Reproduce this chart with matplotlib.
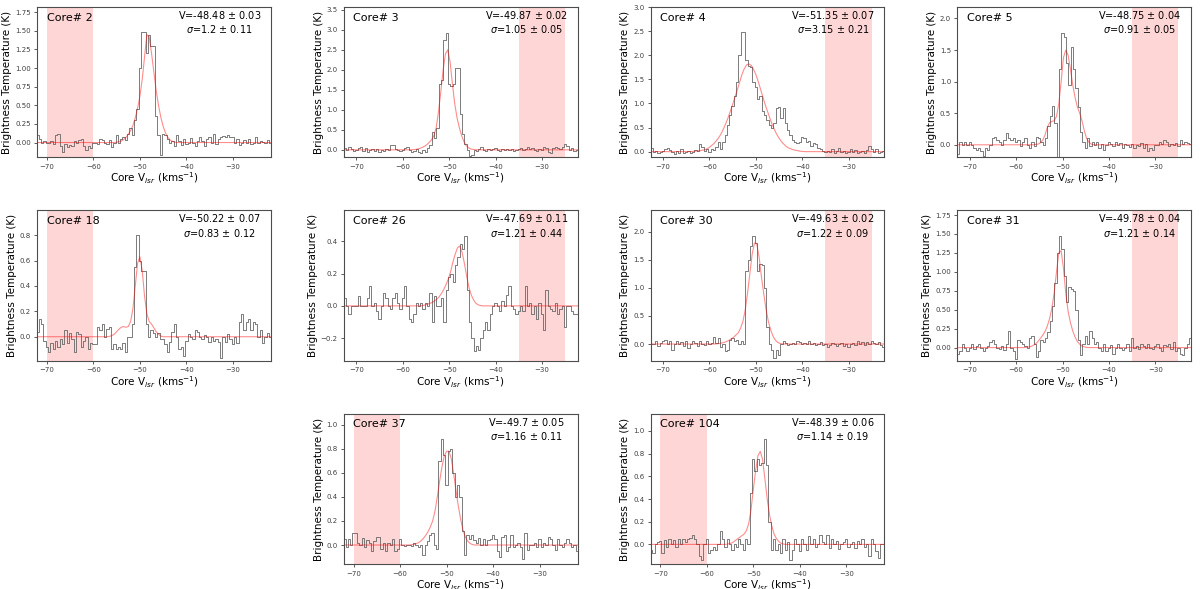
import numpy as np
import matplotlib.pyplot as plt
from matplotlib.ticker import MultipleLocator

# channel width of the spectra (km/s) and of the sampled fit curves
dv = 0.5

# ---- observed spectra (K), one value per channel ----
t_core2 = [0.10, 0.05, 0.00, 0.02, -0.01, 0.00, 0.02, -0.02, 0.10, 0.12,
           -0.05, -0.13, -0.02, -0.06, -0.03, -0.05, 0.02, -0.01, 0.03, 0.05,
           -0.05, -0.10, -0.04, -0.07, 0.00, 0.00, -0.02, 0.05, 0.03, 0.00,
           -0.02, 0.04, -0.06, 0.00, 0.10, 0.00, 0.05, 0.08, 0.03, 0.12,
           0.20, 0.10, 0.30, 0.45, 1.00, 1.49, 1.49, 1.20, 1.45, 1.30,
           1.30, 0.35, 0.10, -0.17, 0.12, 0.10, 0.05, 0.00, 0.02, -0.05,
           0.10, 0.02, -0.03, 0.05, -0.02, 0.00, 0.06, 0.00, -0.04, 0.02,
           0.08, 0.02, -0.05, 0.05, 0.08, 0.00, 0.12, -0.02, 0.05, 0.08,
           0.09, 0.08, 0.10, 0.07, 0.08, 0.00, 0.05, -0.03, 0.00, 0.03,
           0.00, 0.05, -0.02, 0.00, 0.08, 0.00, 0.02, 0.01, 0.00, 0.03,
           0.00]
t_core3 = [0.05, 0.00, 0.07, 0.02, -0.03, 0.00, 0.05, 0.06, -0.02, 0.05,
           -0.05, 0.00, 0.03, -0.03, 0.02, -0.05, 0.00, -0.02, 0.02, 0.00,
           0.12, 0.12, 0.02, 0.00, -0.03, 0.00, 0.05, 0.08, 0.00, -0.05,
           -0.02, 0.02, -0.05, -0.08, 0.00, -0.05, 0.05, 0.12, 0.45, 0.30,
           0.55, 1.65, 1.75, 2.75, 2.93, 1.65, 1.60, 1.65, 2.05, 2.05,
           0.90, 0.40, 0.15, 0.00, -0.15, -0.12, 0.00, -0.02, 0.03, 0.08,
           0.00, -0.02, 0.03, 0.00, 0.02, 0.05, 0.00, -0.02, 0.02, 0.00,
           0.03, 0.00, 0.02, -0.02, 0.00, 0.02, 0.05, 0.00, 0.03, 0.08,
           0.02, 0.05, 0.00, -0.02, 0.02, 0.00, 0.08, 0.05, -0.05, -0.08,
           0.05, 0.08, 0.05, 0.02, 0.08, 0.15, 0.10, 0.00, 0.05, -0.03,
           0.00, 0.02]
t_core4 = [0.08, 0.00, 0.02, -0.02, 0.00, 0.02, 0.05, 0.08, 0.03, 0.00,
           -0.05, 0.02, -0.02, 0.05, -0.03, 0.00, 0.02, -0.02, 0.00, 0.03,
           0.02, 0.15, 0.10, 0.02, 0.05, 0.00, 0.05, 0.03, 0.10, 0.20,
           0.05, 0.20, 0.35, 0.55, 0.75, 0.95, 1.15, 1.45, 2.00, 2.48,
           2.48, 1.90, 1.78, 1.75, 1.45, 1.35, 1.10, 1.15, 0.85, 0.75,
           0.65, 0.55, 0.50, 0.60, 0.90, 0.92, 0.70, 0.90, 0.60, 0.45,
           0.35, 0.25, 0.20, 0.18, 0.20, 0.30, 0.28, 0.20, 0.22, 0.12,
           0.18, 0.15, 0.08, 0.05, 0.02, 0.00, 0.02, 0.00, 0.05, -0.02,
           0.02, 0.08, 0.00, 0.02, -0.02, 0.00, 0.05, 0.00, 0.03, -0.02,
           0.00, 0.02, -0.03, 0.03, 0.12, 0.05, 0.00, 0.05, -0.03, 0.00,
           0.02, 0.00]
t_core5 = [-0.15, 0.05, 0.00, 0.05, 0.00, 0.05, 0.00, -0.05, -0.08, -0.05,
           -0.10, -0.17, -0.05, -0.08, 0.00, 0.10, 0.12, 0.08, 0.05, 0.00,
           0.08, 0.18, 0.10, 0.08, 0.10, 0.05, 0.08, -0.02, 0.05, 0.10,
           0.00, -0.05, 0.05, -0.02, 0.12, 0.10, 0.05, 0.00, 0.10, 0.30,
           0.45, 0.62, 0.35, -0.20, 1.20, 1.77, 1.70, 1.30, 0.95, 1.55,
           1.20, 0.90, 0.60, 0.20, 0.05, -0.05, 0.10, -0.02, 0.05, 0.00,
           0.05, -0.05, 0.02, -0.08, 0.00, 0.05, 0.02, -0.02, 0.05, 0.00,
           0.03, -0.05, 0.02, 0.00, -0.03, 0.02, -0.05, 0.00, -0.02, 0.03,
           -0.05, 0.02, -0.10, -0.05, -0.08, 0.00, 0.00, 0.05, 0.02, 0.08,
           0.05, -0.02, 0.02, 0.00, 0.03, -0.02, 0.08, 0.02, 0.05, 0.03,
           0.02, 0.02]
t_core18 = [0.04, 0.14, 0.10, -0.03, -0.08, -0.12, -0.05, -0.10, -0.03, -0.08,
            -0.02, -0.06, 0.05, -0.05, 0.03, -0.02, -0.12, 0.04, 0.02, -0.08,
            -0.03, 0.00, -0.10, -0.05, -0.06, -0.06, 0.08, 0.05, 0.10, 0.00,
            0.06, 0.08, -0.10, -0.06, -0.10, -0.08, -0.10, -0.05, -0.12, 0.00,
            0.00, 0.10, 0.55, 0.80, 0.60, 0.52, 0.52, 0.10, 0.00, 0.05,
            0.03, 0.00, 0.03, -0.02, -0.02, -0.06, -0.12, -0.04, 0.04, 0.10,
            0.00, -0.10, -0.08, -0.15, -0.03, 0.02, 0.00, -0.02, 0.05, 0.04,
            0.00, -0.02, 0.01, 0.00, -0.04, 0.00, -0.03, -0.02, -0.04, -0.17,
            0.00, -0.04, 0.02, -0.02, -0.06, 0.00, -0.05, 0.12, 0.18, 0.05,
            0.12, 0.14, 0.05, 0.12, 0.10, 0.00, 0.05, -0.05, 0.00, 0.03,
            0.00]
t_core26 = [0.05, 0.00, -0.05, 0.00, 0.00, 0.00, 0.06, 0.00, 0.00, 0.00,
            0.05, 0.12, 0.00, 0.02, -0.03, -0.08, 0.00, 0.08, 0.05, 0.00,
            -0.02, 0.05, 0.08, 0.02, -0.02, 0.05, 0.12, 0.00, -0.08, -0.10,
            -0.05, 0.02, 0.00, 0.02, -0.02, 0.02, 0.00, 0.08, -0.10, 0.06,
            0.00, 0.00, 0.05, -0.10, 0.10, 0.18, 0.20, 0.15, 0.25, 0.30,
            0.38, 0.35, 0.43, 0.10, -0.10, -0.20, -0.28, -0.25, -0.27, -0.20,
            -0.15, -0.10, -0.15, -0.05, 0.00, 0.02, 0.00, -0.03, 0.03, 0.00,
            0.07, 0.12, 0.00, -0.02, -0.05, -0.03, 0.00, -0.03, 0.12, 0.00,
            0.02, -0.05, 0.00, -0.08, 0.02, -0.05, -0.15, 0.10, 0.00, -0.02,
            -0.03, 0.02, -0.05, -0.02, 0.00, -0.13, 0.00, 0.00, -0.03, -0.05,
            -0.05, -0.05]
t_core30 = [0.00, 0.00, 0.05, -0.03, 0.02, 0.05, 0.08, 0.00, 0.05, -0.10,
            0.00, 0.05, 0.00, 0.03, -0.03, 0.05, -0.08, 0.00, 0.06, 0.02,
            -0.03, 0.05, 0.00, -0.02, 0.05, 0.00, 0.02, 0.12, 0.02, 0.10,
            -0.05, 0.00, -0.12, -0.10, 0.08, 0.10, 0.05, 0.08, 0.00, 0.05,
            0.00, 1.30, 1.50, 1.75, 1.93, 1.80, 1.30, 1.42, 1.40, 1.00,
            0.30, 0.00, -0.10, -0.25, -0.10, -0.20, 0.00, 0.05, 0.02, -0.02,
            0.00, 0.02, 0.00, 0.05, 0.03, 0.00, 0.02, 0.00, 0.05, 0.00,
            0.02, -0.02, 0.00, 0.03, -0.02, 0.00, -0.05, -0.02, 0.02, 0.00,
            -0.03, 0.00, 0.02, -0.03, 0.00, -0.05, 0.00, 0.02, -0.02, 0.05,
            0.00, 0.04, -0.02, 0.03, 0.00, 0.05, 0.02, 0.00, 0.03, -0.02,
            -0.05, -0.06]
t_core31 = [-0.08, -0.05, 0.05, 0.00, -0.05, 0.00, 0.05, -0.02, 0.02, 0.05,
            0.00, -0.05, 0.00, 0.02, 0.08, 0.10, 0.05, 0.00, -0.02, 0.02,
            -0.03, 0.05, 0.22, 0.00, -0.05, -0.15, 0.10, 0.08, 0.05, 0.02,
            0.00, 0.12, 0.15, 0.05, -0.12, -0.05, 0.10, 0.08, 0.12, 0.20,
            0.35, 0.55, 0.85, 1.25, 1.47, 1.30, 0.95, 0.60, 0.80, 0.78,
            0.75, 0.50, 0.10, -0.10, 0.05, 0.15, 0.05, 0.22, 0.12, 0.05,
            0.08, 0.00, -0.05, 0.05, -0.05, 0.00, 0.03, -0.08, 0.00, 0.05,
            0.00, -0.03, 0.00, 0.05, -0.05, 0.12, 0.00, 0.02, -0.02, 0.05,
            0.02, 0.00, 0.05, 0.00, -0.02, 0.02, 0.05, 0.00, -0.05, 0.03,
            0.02, 0.05, -0.02, 0.08, -0.05, 0.00, -0.08, -0.10, 0.00, 0.05,
            0.12, 0.12]
t_core37 = [0.05, -0.02, 0.05, 0.00, 0.10, 0.10, 0.02, 0.00, 0.06, -0.02,
            0.04, 0.02, -0.05, 0.03, 0.07, 0.07, -0.03, 0.02, -0.05, 0.02,
            0.00, 0.05, -0.05, -0.03, 0.05, 0.00, -0.01, 0.00, 0.00, -0.01,
            0.02, 0.00, -0.02, 0.00, -0.08, 0.00, 0.03, 0.08, 0.10, 0.00,
            -0.03, 0.70, 0.88, 0.75, 0.50, 0.78, 0.80, 0.60, 0.40, 0.50,
            0.40, 0.12, -0.08, 0.08, 0.05, 0.08, 0.04, 0.02, 0.06, 0.00,
            0.05, 0.00, 0.04, 0.05, 0.08, 0.05, -0.05, -0.10, 0.07, 0.08,
            -0.05, -0.02, 0.08, -0.02, 0.00, 0.02, -0.02, -0.12, 0.10, -0.04,
            0.00, 0.00, 0.02, -0.02, 0.05, -0.02, 0.02, 0.00, 0.07, 0.05,
            0.00, -0.04, 0.05, 0.00, -0.02, 0.02, 0.05, 0.02, -0.02, 0.00,
            -0.05]
t_core104 = [-0.05, -0.08, 0.00, 0.02, 0.03, -0.08, 0.04, -0.02, 0.05, 0.00,
             0.04, -0.02, 0.05, 0.00, 0.05, 0.02, 0.05, 0.06, 0.08, 0.05,
             0.00, -0.10, -0.14, 0.00, 0.05, -0.08, -0.05, -0.02, -0.05, 0.00,
             0.12, 0.05, -0.02, 0.05, 0.00, -0.05, 0.00, -0.02, 0.05, 0.00,
             -0.05, 0.05, 0.00, 0.45, 0.75, 0.65, 0.75, 0.70, 0.72, 0.93,
             0.70, 0.20, -0.05, 0.05, -0.05, 0.00, -0.08, 0.05, -0.05, 0.02,
             -0.14, -0.05, 0.05, 0.00, -0.06, 0.05, 0.00, -0.05, 0.07, 0.00,
             0.05, -0.02, 0.00, 0.08, 0.02, 0.00, 0.08, -0.03, 0.05, 0.00,
             0.03, -0.04, 0.00, 0.02, 0.05, -0.02, 0.00, 0.02, -0.03, 0.03,
             0.00, 0.05, -0.02, 0.00, -0.10, 0.05, 0.00, -0.06, -0.12, 0.00,
             0.00]

# ---- fitted profiles (K), sampled every dv from fit_start ----
fit_core2 = [0.0, 0.0, 0.005, 0.01, 0.02, 0.04, 0.07, 0.11, 0.16, 0.23, 0.33,
             0.46, 0.62, 0.85, 1.15, 1.45, 1.42, 1.2, 0.95, 0.7, 0.5, 0.34,
             0.22, 0.13, 0.07, 0.035, 0.015, 0.005, 0.0]
fit_core3 = [0.0, 0.005, 0.01, 0.02, 0.035, 0.06, 0.09, 0.13, 0.19, 0.25, 0.35,
             0.55, 0.95, 1.45, 2.0, 2.4, 2.5, 2.2, 1.65, 1.15, 0.8, 0.55, 0.35,
             0.2, 0.1, 0.05, 0.02, 0.01, 0.0]
fit_core4 = [0, 0, 0, 0, 0, 0.005, 0.01, 0.015, 0.02, 0.03, 0.04, 0.06, 0.09,
             0.13, 0.17, 0.23, 0.29, 0.37, 0.47, 0.58, 0.7, 0.84, 0.98, 1.13,
             1.28, 1.44, 1.6, 1.72, 1.8, 1.82, 1.79, 1.71, 1.6, 1.46, 1.3, 1.14,
             0.98, 0.84, 0.7, 0.57, 0.46, 0.36, 0.28, 0.21, 0.16, 0.11, 0.08,
             0.06, 0.04, 0.03, 0.02, 0.01, 0.005, 0, 0]
fit_core5 = [0, 0.005, 0.01, 0.03, 0.07, 0.15, 0.27, 0.35, 0.37, 0.38, 0.45,
             0.65, 1.0, 1.38, 1.5, 1.42, 1.2, 0.95, 0.75, 0.6, 0.5, 0.38, 0.22,
             0.1, 0.04, 0.01, 0]
fit_core18 = [0, 0.003, 0.01, 0.02, 0.04, 0.06, 0.075, 0.08, 0.075, 0.08, 0.12,
              0.22, 0.4, 0.58, 0.63, 0.52, 0.32, 0.18, 0.12, 0.1, 0.07, 0.04,
              0.02, 0.005, 0]
fit_core26 = [0, 0.002, 0.005, 0.01, 0.015, 0.02, 0.03, 0.04, 0.055, 0.075, 0.1,
              0.13, 0.165, 0.21, 0.27, 0.32, 0.36, 0.37, 0.33, 0.26, 0.18, 0.11,
              0.065, 0.035, 0.015, 0.006, 0.002, 0, 0]
fit_core30 = [0, 0.005, 0.01, 0.02, 0.03, 0.045, 0.065, 0.09, 0.12, 0.16, 0.2,
              0.28, 0.4, 0.6, 0.9, 1.25, 1.6, 1.8, 1.78, 1.55, 1.2, 0.9, 0.62,
              0.4, 0.25, 0.14, 0.07, 0.03, 0.01, 0.003, 0]
fit_core31 = [0, 0.003, 0.008, 0.015, 0.03, 0.05, 0.08, 0.12, 0.16, 0.21, 0.28,
              0.38, 0.52, 0.72, 1.0, 1.25, 1.28, 1.05, 0.72, 0.48, 0.33, 0.22,
              0.14, 0.08, 0.045, 0.02, 0.008, 0.002, 0]
fit_core37 = [0, 0.003, 0.006, 0.012, 0.02, 0.035, 0.055, 0.08, 0.11, 0.15, 0.2,
              0.28, 0.4, 0.53, 0.65, 0.74, 0.78, 0.78, 0.72, 0.6, 0.46, 0.33,
              0.22, 0.13, 0.07, 0.035, 0.015, 0.005, 0]
fit_core104 = [0, 0.003, 0.008, 0.015, 0.03, 0.045, 0.06, 0.075, 0.09, 0.12,
               0.18, 0.3, 0.48, 0.65, 0.78, 0.82, 0.75, 0.58, 0.4, 0.26, 0.16,
               0.09, 0.05, 0.025, 0.01, 0.003, 0]

cores = [2, 3, 4, 5, 18, 26, 30, 31, 37, 104]
spectra = [t_core2, t_core3, t_core4, t_core5, t_core18,
           t_core26, t_core30, t_core31, t_core37, t_core104]
spec_start = [-72.0, -72.5, -72.5, -72.5, -72.0, -72.5, -72.5, -72.5, -72.0, -72.0]
fits = [fit_core2, fit_core3, fit_core4, fit_core5, fit_core18,
        fit_core26, fit_core30, fit_core31, fit_core37, fit_core104]
fit_start = [-56.0, -58.3, -66.0, -56.3, -57.0, -56.2, -58.8, -58.3, -58.0, -56.0]

vlsr = ['-48.48', '-49.87', '-51.35', '-48.75', '-50.22', '-47.69', '-49.63', '-49.78', '-49.7', '-48.39']
vlsr_err = ['0.03', '0.02', '0.07', '0.04', '0.07', '0.11', '0.02', '0.04', '0.05', '0.06']
sigma = ['1.2', '1.05', '3.15', '0.91', '0.83', '1.21', '1.22', '1.21', '1.16', '1.14']
sigma_err = ['0.11', '0.05', '0.21', '0.05', '0.12', '0.44', '0.09', '0.14', '0.11', '0.19']
# baseline (emission-free) window shaded in each panel
base_lo = [-70, -35, -35, -35, -70, -35, -35, -35, -70, -70]
base_hi = [-60, -25, -25, -25, -60, -25, -25, -25, -60, -60]

# axis settings per panel
ylims = [(-0.2, 1.82), (-0.19, 3.57), (-0.12, 3.0), (-0.2, 2.18), (-0.19, 0.995),
         (-0.34, 0.59), (-0.3, 2.38), (-0.175, 1.81), (-0.16, 1.09), (-0.175, 1.15)]
ysteps = [0.25, 0.5, 0.5, 0.5, 0.2, 0.2, 0.5, 0.25, 0.2, 0.2]
slots = [(0, 0), (0, 1), (0, 2), (0, 3), (1, 0), (1, 1), (1, 2), (1, 3), (2, 1), (2, 2)]

fig = plt.figure(figsize=(12, 5.89), dpi=100)
gs = fig.add_gridspec(3, 4, left=0.031, right=0.9925, top=0.988, bottom=0.042,
                      wspace=0.312, hspace=0.353)

for i in range(len(cores)):
    ax = fig.add_subplot(gs[slots[i][0], slots[i][1]])
    t = np.array(spectra[i])
    v = spec_start[i] + dv * np.arange(len(t))
    f = np.array(fits[i])
    vf = fit_start[i] + dv * np.arange(len(f))
    vf = np.concatenate([[v[0] - 1], vf, [v[-1] + 1]])
    f = np.concatenate([[0], f, [0]])

    ax.axvspan(base_lo[i], base_hi[i], color='red', alpha=0.16, lw=0)
    ax.step(v, t, where='mid', color='0.4', lw=0.6)
    ax.plot(vf, f, color='red', alpha=0.45, lw=0.8)

    if base_lo[i] == -70:
        ax.set_xlim(-72.1, -21.8)
    else:
        ax.set_xlim(-72.7, -22.3)
    ax.set_ylim(ylims[i])
    ax.xaxis.set_major_locator(MultipleLocator(10))
    ax.yaxis.set_major_locator(MultipleLocator(ysteps[i]))
    ax.tick_params(labelsize=5, length=2.5, width=0.6, pad=2, colors='0.25')
    for s in ax.spines.values():
        s.set_color('0.3')
        s.set_linewidth(0.8)

    ax.set_xlabel('Core V$_{lsr}$ (kms$^{-1}$)', fontsize=7.5, labelpad=1)
    ax.set_ylabel('Brightness Temperature (K)', fontsize=7.5, labelpad=2)
    ax.text(0.04, 0.93, 'Core# ' + str(cores[i]), transform=ax.transAxes,
            fontsize=8, va='center', ha='left')
    ax.text(0.78, 0.90, 'V=' + vlsr[i] + ' $\\pm$ ' + vlsr_err[i] + '\n'
            + '$\\sigma$=' + sigma[i] + ' $\\pm$ ' + sigma_err[i],
            transform=ax.transAxes, fontsize=7, va='center', ha='center',
            linespacing=1.25)

fig.savefig('out.png', dpi=100)
